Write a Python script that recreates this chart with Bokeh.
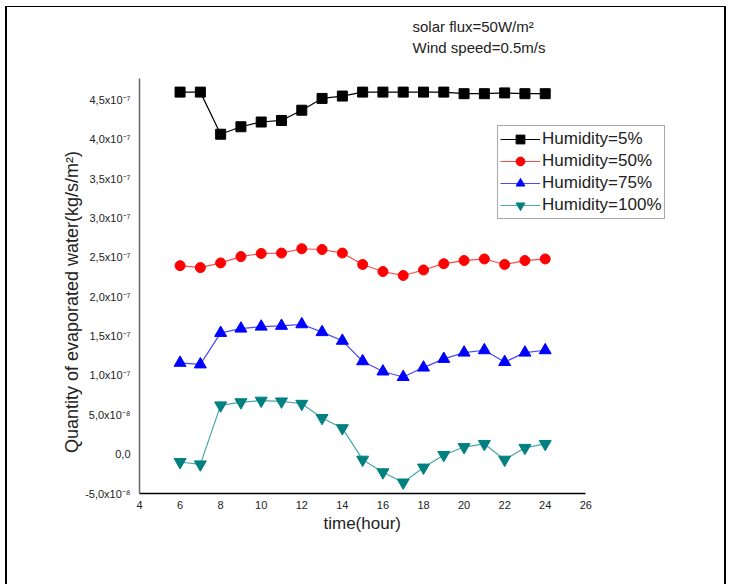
from bokeh.plotting import figure
from bokeh.models import FixedTicker, CustomJSTickFormatter, Legend, LegendItem, Title, Label
from bokeh.embed import file_html
from bokeh.resources import INLINE

# ---- data (kg/s/m^2) ----
hours = [6, 7, 8, 9, 10, 11, 12, 13, 14, 15, 16, 17, 18, 19, 20, 21, 22, 23, 24]

humidity_5 = [4.60e-7, 4.60e-7, 4.065e-7, 4.16e-7, 4.22e-7, 4.24e-7, 4.37e-7, 4.52e-7, 4.55e-7,
              4.60e-7, 4.60e-7, 4.60e-7, 4.60e-7, 4.60e-7, 4.58e-7, 4.58e-7, 4.59e-7, 4.58e-7, 4.58e-7]
humidity_50 = [2.395e-7, 2.37e-7, 2.43e-7, 2.51e-7, 2.55e-7, 2.555e-7, 2.61e-7, 2.60e-7, 2.555e-7,
               2.41e-7, 2.32e-7, 2.27e-7, 2.34e-7, 2.42e-7, 2.46e-7, 2.48e-7, 2.41e-7, 2.46e-7, 2.48e-7]
humidity_75 = [1.16e-7, 1.14e-7, 1.54e-7, 1.595e-7, 1.62e-7, 1.63e-7, 1.65e-7, 1.55e-7, 1.44e-7,
               1.18e-7, 1.05e-7, 0.98e-7, 1.10e-7, 1.21e-7, 1.29e-7, 1.32e-7, 1.17e-7, 1.29e-7, 1.32e-7]
humidity_100 = [-0.10e-7, -0.13e-7, 0.62e-7, 0.66e-7, 0.68e-7, 0.67e-7, 0.64e-7, 0.46e-7, 0.33e-7,
                -0.07e-7, -0.23e-7, -0.36e-7, -0.17e-7, -0.01e-7, 0.09e-7, 0.13e-7, -0.07e-7, 0.08e-7, 0.13e-7]

series_names = ["Humidity=5%", "Humidity=50%", "Humidity=75%", "Humidity=100%"]
conditions = ["solar flux=50W/m\u00b2", "Wind speed=0.5m/s"]

x_ticks = [4, 6, 8, 10, 12, 14, 16, 18, 20, 22, 24, 26]
y_ticks = [-0.5e-7, 0.0, 0.5e-7, 1.0e-7, 1.5e-7, 2.0e-7, 2.5e-7, 3.0e-7, 3.5e-7, 4.0e-7, 4.5e-7]
y_tick_labels = ["-5,0x10\u207b\u2078", "0,0", "5,0x10\u207b\u2078", "1,0x10\u207b\u2077",
                 "1,5x10\u207b\u2077", "2,0x10\u207b\u2077", "2,5x10\u207b\u2077", "3,0x10\u207b\u2077",
                 "3,5x10\u207b\u2077", "4,0x10\u207b\u2077", "4,5x10\u207b\u2077"]

FONT = "Liberation Sans"

p = figure(width=721, height=578, x_range=(4, 32), y_range=(-0.5e-7, 5.637e-7),
           output_backend="svg", toolbar_location=None,
           min_border_left=132, min_border_right=21, min_border_top=3, min_border_bottom=92)
p.margin = (6, 0, 0, 5)
p.styles = {"border-left": "2px solid black", "border-right": "2px solid black",
            "border-top": "1px solid black"}
p.grid.visible = False
p.outline_line_color = None
p.background_fill_color = "white"
p.border_fill_color = "white"

# condition text in the upper part of the plot area
for i, txt in enumerate(conditions):
    p.add_layout(Label(x=273, y=467 - 21 * i, x_units="screen", y_units="screen", text=txt,
                       text_font=FONT, text_font_size="15px", text_color="#222222",
                       text_baseline="middle"))

# x axis title, placed under the axis span (4..26)
xtitle = Title(text="time(hour)", align="left", offset=184, text_font=FONT,
               text_font_size="17px", text_font_style="normal", text_color="#222222",
               standoff=0)
p.add_layout(xtitle, "below")

# axes
p.xaxis.ticker = FixedTicker(ticks=x_ticks)
p.xaxis.bounds = (4, 26)
p.yaxis.ticker = FixedTicker(ticks=y_ticks)
p.yaxis.bounds = (-0.5e-7, 4.77e-7)
p.yaxis.formatter = CustomJSTickFormatter(args=dict(vals=y_ticks, labels=y_tick_labels), code="""
    let best = 0, d = Infinity;
    for (let i = 0; i < vals.length; i++) {
        const e = Math.abs(vals[i] - tick);
        if (e < d) { d = e; best = i; }
    }
    return labels[best];
""")
for ax in (p.xaxis, p.yaxis):
    ax.major_tick_line_color = None
    ax.minor_tick_line_color = None
    ax.major_label_text_font = FONT
    ax.major_label_text_font_size = "11px"
    ax.major_label_text_color = "#222222"
    ax.major_label_standoff = 1
    ax.axis_label_text_font = FONT
    ax.axis_label_text_font_style = "normal"
    ax.axis_label_text_color = "#222222"
p.yaxis.major_label_standoff = 3
p.xaxis.axis_line_color = "black"
p.xaxis.axis_line_width = 1.5
p.yaxis.axis_line_color = "#666666"
p.yaxis.axis_line_width = 1.5
p.yaxis.axis_label = "Quantity of evaporated water(kg/s/m\u00b2)" + "\u00a0" * 20
p.yaxis.axis_label_text_font_size = "18px"
p.yaxis.axis_label_standoff = 0

# series
styles = [
    (humidity_5, "black", "black", "square", 10),
    (humidity_50, "#ff4a4a", "#ff0000", "circle", 10),
    (humidity_75, "#4a4aff", "#0000ff", "triangle", 12),
    (humidity_100, "#4aa8a8", "#008080", "inverted_triangle", 12),
]
items = []
for name, (vals, lc, mc, mk, sz) in zip(series_names, styles):
    rl = p.line(hours, vals, line_color=lc, line_width=1.2)
    rm = p.scatter(hours, vals, marker=mk, size=sz, fill_color=mc, line_color=mc)
    items.append(LegendItem(label=name, renderers=[rl, rm]))

legend = Legend(items=items, location=(358, 274))
legend.label_text_font = FONT
legend.label_text_font_size = "17px"
legend.label_text_color = "#222222"
legend.glyph_width = 40
legend.glyph_height = 22
legend.label_height = 22
legend.label_standoff = 2
legend.spacing = 0
legend.padding = 2
legend.margin = 0
legend.border_line_color = "#555555"
legend.border_line_width = 1
legend.background_fill_alpha = 1
p.add_layout(legend)

open("out.html", "w").write(file_html(p, INLINE))
